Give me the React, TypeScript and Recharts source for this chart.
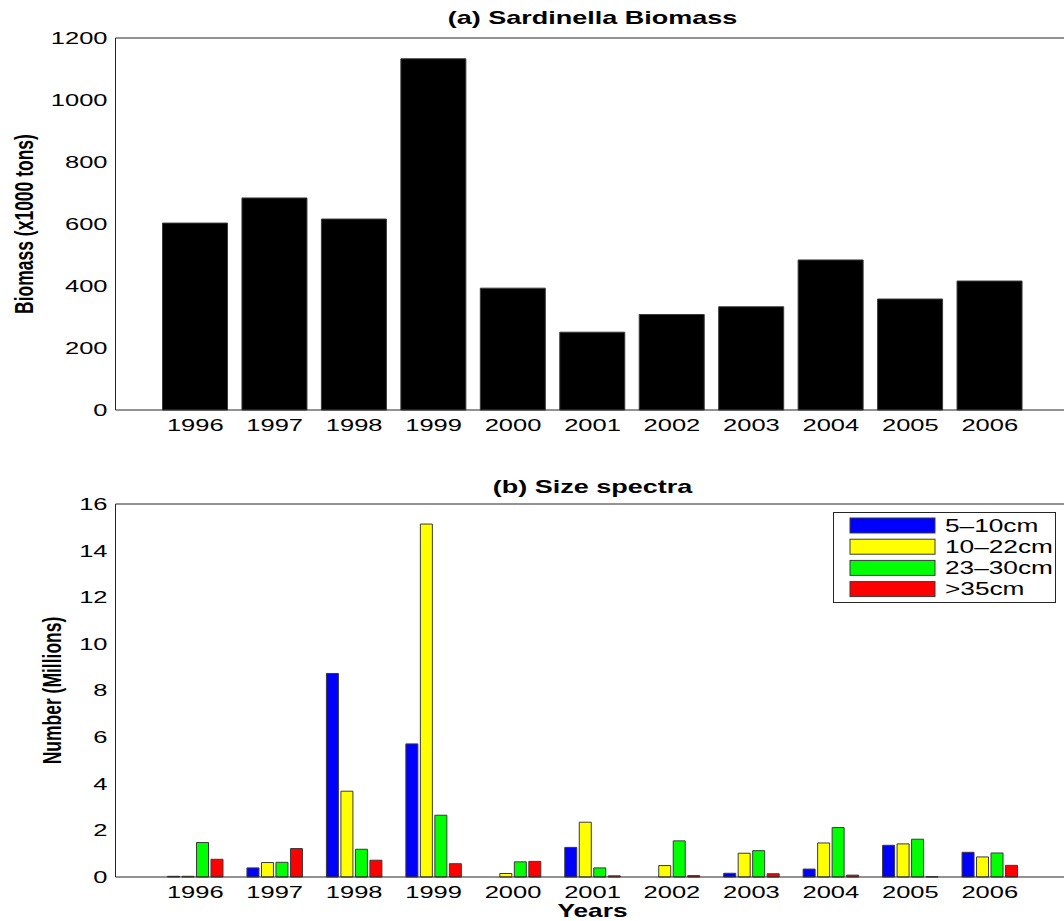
import { Bar, BarChart, Label, Legend, XAxis, YAxis } from "recharts";

const YEARS = ["1996", "1997", "1998", "1999", "2000", "2001", "2002", "2003", "2004", "2005", "2006"];
const BIOMASS = [603, 684, 616, 1133, 393, 251, 308, 333, 484, 358, 416];
const BIOMASS_TICKS = [0, 200, 400, 600, 800, 1000, 1200];

const SIZE_5_10 = [0.03, 0.39, 8.73, 5.71, 0, 1.27, 0, 0.16, 0.34, 1.36, 1.06];
const SIZE_10_22 = [0.03, 0.62, 3.68, 15.14, 0.15, 2.35, 0.49, 1.02, 1.46, 1.42, 0.86];
const SIZE_23_30 = [1.48, 0.63, 1.19, 2.65, 0.65, 0.39, 1.55, 1.13, 2.12, 1.62, 1.03];
const SIZE_GT_35 = [0.76, 1.22, 0.72, 0.57, 0.67, 0.05, 0.06, 0.14, 0.08, 0.01, 0.5];
const SIZE_TICKS = [0, 2, 4, 6, 8, 10, 12, 14, 16];

const SIZE_NAMES = ["5\u201310cm", "10\u201322cm", "23\u201330cm", ">35cm"];
const SIZE_KEYS = ["s1", "s2", "s3", "s4"];
const SIZE_COLORS = ["#0000ff", "#ffff00", "#00ff00", "#ff0000"];

const SX = 1.5; // the original picture is stretched sideways
const FONT = "'Liberation Sans', Arial, Helvetica, sans-serif";
const AXIS = "#262626";
const EDGE = "#3a3a3a";
const W = 1080;
const PAD = { left: 40, right: 40 };

const biomassRows = YEARS.map((year, i) => ({ year, biomass: BIOMASS[i] }));
const sizeRows = YEARS.map((year, i) => ({
    year,
    s1: SIZE_5_10[i],
    s2: SIZE_10_22[i],
    s3: SIZE_23_30[i],
    s4: SIZE_GT_35[i],
}));

function Stretched({ x, y, anchor = "middle", size = 17, weight = "normal", dy = "0", rotate = 0, children }: any) {
    const t = `translate(${x},${y}) scale(${SX},1)` + (rotate ? ` rotate(${rotate})` : "");
    return (
        <text transform={t} textAnchor={anchor} fontSize={size} fontWeight={weight} fontFamily={FONT} fill="#000" dy={dy}>
            {children}
        </text>
    );
}

const XTick = (p: any) => (
    <Stretched x={p.x} y={p.y} dy="0.71em">
        {p.payload.value}
    </Stretched>
);

const YTick = (p: any) => (
    <Stretched x={p.x} y={p.y} anchor="end" dy="0.35em">
        {p.payload.value}
    </Stretched>
);

const title = (text: string, above: number) => (p: any) => {
    const vb = p.viewBox || {};
    return (
        <Stretched x={vb.x + vb.width / 2} y={vb.y - above} weight="bold" size={18} dy="0.35em">
            {text}
        </Stretched>
    );
};

const yTitle = (text: string, cx: number) => (p: any) => {
    const vb = p.viewBox || {};
    return (
        <Stretched x={vb.x + cx} y={vb.y + vb.height / 2} size={17.5} weight="bold" rotate={-90} dy="0.35em">
            {text}
        </Stretched>
    );
};

const xTitle = (text: string, below: number) => (p: any) => {
    const vb = p.viewBox || {};
    return (
        <Stretched x={vb.x + vb.width / 2} y={vb.y + below} weight="bold" size={17.5}>
            {text}
        </Stretched>
    );
};

function SizeLegend() {
    return (
        <svg width={223} height={91} style={{ display: "block" }}>
            <rect x={0.5} y={0.5} width={222} height={90} fill="#fff" stroke={AXIS} />
            {SIZE_NAMES.map((name, i) => (
                <g key={name}>
                    <rect x={17} y={6 + i * 21.2} width={85} height={15} fill={SIZE_COLORS[i]} stroke={EDGE} />
                    <Stretched x={112} y={13.5 + i * 21.2} anchor="start" size={17.5} dy="0.35em">
                        {name}
                    </Stretched>
                </g>
            ))}
        </svg>
    );
}

// matlab-style box: labels outside, tick marks pointing inwards on all four sides
function boxAxes(ticks: number[], max: number, yLabel: string, yLabelX: number, xHeight: number, xLabel?: string) {
    return [
        <XAxis
            key="xb"
            dataKey="year"
            axisLine={{ stroke: AXIS }}
            tickLine={false}
            tickSize={0}
            tickMargin={9}
            tick={XTick}
            interval={0}
            padding={PAD}
            height={xHeight}
        >
            {xLabel ? <Label content={xTitle(xLabel, 40)} /> : null}
        </XAxis>,
        <XAxis
            key="xbin"
            xAxisId="bin"
            dataKey="year"
            mirror
            tick={false}
            axisLine={false}
            tickLine={{ stroke: AXIS }}
            tickSize={7}
            interval={0}
            padding={PAD}
        />,
        <YAxis
            key="yl"
            domain={[0, max]}
            ticks={ticks}
            width={115.5}
            axisLine={{ stroke: AXIS }}
            tickLine={false}
            tickSize={0}
            tickMargin={8}
            tick={YTick}
            interval={0}
        >
            <Label content={yTitle(yLabel, yLabelX)} />
        </YAxis>,
        <YAxis
            key="ylin"
            yAxisId="lin"
            domain={[0, max]}
            ticks={ticks}
            mirror
            tick={false}
            axisLine={false}
            tickLine={{ stroke: AXIS }}
            tickSize={7}
            interval={0}
        />,
        <YAxis
            key="yr"
            yAxisId="r"
            orientation="right"
            domain={[0, max]}
            ticks={ticks}
            mirror
            tick={false}
            axisLine={{ stroke: AXIS }}
            tickLine={{ stroke: AXIS }}
            tickSize={7}
            interval={0}
        />,
    ];
}

function topAxis(text: string, above: number) {
    return (
        <XAxis
            xAxisId="top"
            dataKey="year"
            orientation="top"
            mirror
            tick={false}
            axisLine={{ stroke: AXIS }}
            tickLine={{ stroke: AXIS }}
            tickSize={7}
            interval={0}
            padding={PAD}
        >
            <Label content={title(text, above)} />
        </XAxis>
    );
}

export default function App() {
    return (
        <div
            style={{
                position: "absolute",
                left: 0,
                top: 0,
                width: 1064,
                height: 921,
                overflow: "hidden",
                background: "#fff",
            }}
        >
            <BarChart width={W} height={460} data={biomassRows} margin={{ top: 38, right: 10.5, bottom: 0, left: 0 }} barSize={65}>
                {boxAxes(BIOMASS_TICKS, 1200, "Biomass (x1000 tons)", 23.5, 50)}
                {topAxis("(a) Sardinella Biomass", 20)}
                <Bar dataKey="biomass" fill="#000" stroke={EDGE} strokeWidth={1} isAnimationActive={false} />
            </BarChart>
            <BarChart
                width={W}
                height={461}
                data={sizeRows}
                margin={{ top: 44, right: 10.5, bottom: 0, left: 0 }}
                barSize={12}
                barGap={2.5}
            >
                {boxAxes(SIZE_TICKS, 16, "Number (Millions)", 51.5, 44, "Years")}
                {topAxis("(b) Size spectra", 17)}
                <Legend
                    layout="vertical"
                    align="center"
                    verticalAlign="middle"
                    content={SizeLegend}
                    wrapperStyle={{ left: 833, top: 52, width: 223, height: 91 }}
                />
                {SIZE_KEYS.map((k, i) => (
                    <Bar
                        key={k}
                        dataKey={k}
                        name={SIZE_NAMES[i]}
                        fill={SIZE_COLORS[i]}
                        stroke={EDGE}
                        strokeWidth={1}
                        isAnimationActive={false}
                    />
                ))}
            </BarChart>
        </div>
    );
}
